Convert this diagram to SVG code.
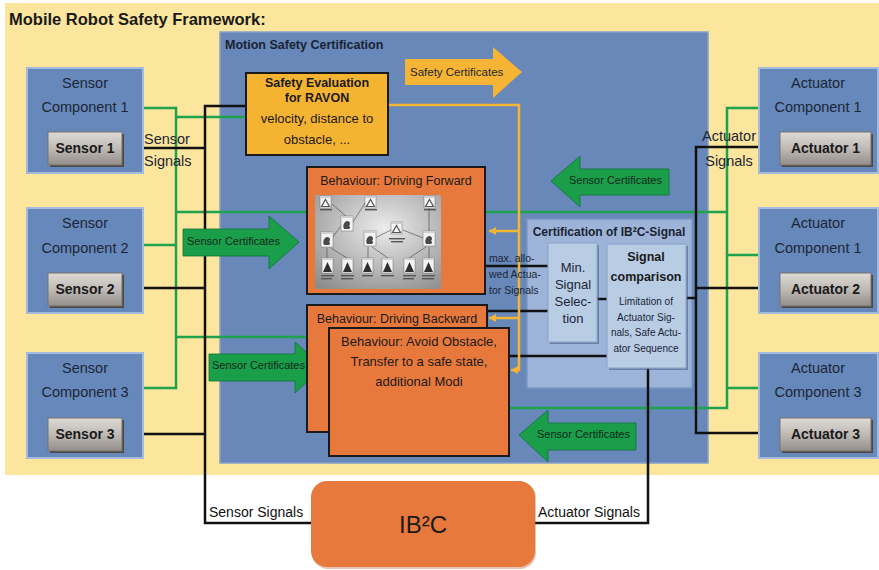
<svg xmlns="http://www.w3.org/2000/svg" width="879" height="570" viewBox="0 0 879 570">
  <style>
    .t { font-family: "Liberation Sans", Arial, sans-serif; fill: #1c2636; }
    .b { font-weight: bold; }
    .m { text-anchor: middle; }
    .comp { fill: #6788ba; stroke: #a2bbdf; stroke-width: 2; }
    .btn { fill: url(#btnGrad); stroke: #77726d; stroke-width: 1; }
    .btnsh { fill: #4b4845; }
    .orange { fill: #e8793d; stroke: #1a1a1a; stroke-width: 2; }
    .blk { stroke: #111; stroke-width: 2.5; fill: none; }
    .grn { stroke: #1ea24c; stroke-width: 2.5; fill: none; }
    .ylw { stroke: #f5b433; stroke-width: 2.5; fill: none; }
    .garrow { fill: #1a9e4a; stroke: #117139; stroke-width: 0.8; }
    .lite { fill: #b8cce4; stroke: #8ea8cf; stroke-width: 1.2; }
    .sh { fill: #3f547a; opacity: 0.55; }
    .ico { fill: #f3f3f3; stroke: #6f6f6f; stroke-width: 0.5; }
    .tiny { fill: #555; }
    .wire { stroke: #444; stroke-width: 0.6; fill: none; }
  </style>
  <defs>
    <linearGradient id="btnGrad" x1="0" y1="0" x2="0" y2="1">
      <stop offset="0" stop-color="#dedad6"/>
      <stop offset="0.5" stop-color="#bfbab5"/>
      <stop offset="1" stop-color="#938e89"/>
    </linearGradient>
    <radialGradient id="shotGrad" cx="0.55" cy="0.35" r="0.8">
      <stop offset="0" stop-color="#ececec"/>
      <stop offset="1" stop-color="#8c8c8c"/>
    </radialGradient>
    <marker id="yHead" markerUnits="userSpaceOnUse" markerWidth="8" markerHeight="8" refX="7" refY="4" orient="auto">
      <path d="M0,0 L7,4 L0,8 z" fill="#f5b433"/>
    </marker>
    <g id="icoTri">
      <rect class="ico" width="11" height="12"/>
      <rect width="11" height="2" fill="#cfcfcf"/>
      <polygon points="5.5,3.5 9.5,10.5 1.5,10.5" fill="none" stroke="#555" stroke-width="1.2"/>
    </g>
    <g id="icoAmp">
      <rect class="ico" width="12" height="15"/>
      <rect width="12" height="2" fill="#cfcfcf"/>
      <path d="M3,13 C1,9 4,5 6,5 C9,5 10,8 8,10 C10,11 9,13 7,13 Z" fill="#4a4a4a"/>
    </g>
    <g id="icoCone">
      <rect class="ico" width="11" height="15"/>
      <rect width="11" height="2" fill="#cfcfcf"/>
      <polygon points="5.5,4 10,14 1,14" fill="#2f2f2f"/>
    </g>
  </defs>

  <!-- framework background -->
  <rect x="5" y="3" width="874" height="472" fill="#fce59c"/>
  <text class="t b" x="9" y="25" font-size="16.5" style="fill:#1a1a1a">Mobile Robot Safety Framework:</text>

  <!-- motion safety certification panel -->
  <g id="motion-safety-certification">
    <rect x="220" y="32" width="488" height="431" fill="#6788b9" stroke="#86a1cb" stroke-width="1.5"/>
    <text class="t b" x="225" y="49" font-size="12.5" style="fill:#1a2333">Motion Safety Certification</text>
  </g>

  <!-- certification of the IB2C signal (container) -->
  <g id="certification-ib2c-signal">
    <rect x="527" y="219" width="165" height="169" fill="#9db4d8" stroke="#7b97c4" stroke-width="1.5"/>
    <text class="t b m" x="609" y="236" font-size="12" style="fill:#1a2333">Certification of IB²C-Signal</text>
  </g>

  <!-- connectors -->
  <g id="connectors">
    <!-- sensor certificate wiring -->
    <path class="grn" d="M143,108 H176 V388 H143"/>
    <path class="grn" d="M143,245 H176"/>
    <path class="grn" d="M176,117 H246"/>
    <path class="grn" d="M176,212 H307"/>
    <path class="grn" d="M176,337 H307"/>
    <path class="grn" d="M759,108 H727 V408 H509"/>
    <path class="grn" d="M759,255 H727"/>
    <path class="grn" d="M759,388 H727"/>
    <path class="grn" d="M485,212 H727"/>
    <!-- sensor signal bus -->
    <path class="blk" d="M122,148 H205"/>
    <path class="blk" d="M122,288 H205"/>
    <path class="blk" d="M122,434 H205"/>
    <path class="blk" d="M246,106 H205 V523 H311" stroke-width="2.2"/>
    <!-- behaviour outputs -->
    <path class="blk" d="M486,266 H548"/>
    <path class="blk" d="M488,311 H548"/>
    <path class="blk" d="M510,356 H607"/>
    <path class="blk" d="M597,299 H607"/>
    <!-- actuator signal bus -->
    <path class="blk" d="M780,147 H696 V433 H780"/>
    <path class="blk" d="M780,288 H696"/>
    <path class="blk" d="M686,298 H696"/>
    <path class="blk" d="M648,368 V523 H535" stroke-width="2.2"/>
    <!-- safety certificates distribution -->
    <path class="ylw" d="M388,105 H519 V370 H511" marker-end="url(#yHead)"/>
    <path class="ylw" d="M519,231 H489" marker-end="url(#yHead)"/>
    <path class="ylw" d="M519,318 H489" marker-end="url(#yHead)"/>
  </g>

  <!-- certificate arrows -->
  <g id="safety-certificates-arrow">
    <polygon points="405,59 493,59 493,47 522,72 493,98 493,85 405,85" fill="#f5b433"/>
    <text class="t" x="410" y="76" font-size="11.5">Safety Certificates</text>
  </g>
  <g id="sensor-certificates-1">
    <polygon class="garrow" points="183,229 269,229 269,216 299,242 269,269 269,256 183,256"/>
    <text class="t" x="187" y="245" font-size="11" style="fill:#10281a">Sensor Certificates</text>
  </g>
  <g id="sensor-certificates-2">
    <polygon class="garrow" points="209,354 295,354 295,342 323,367 295,393 295,381 209,381"/>
    <text class="t" x="212" y="369" font-size="11" style="fill:#10281a">Sensor Certificates</text>
  </g>
  <g id="sensor-certificates-3">
    <polygon class="garrow" points="669,169 580,169 580,156 551,181 580,207 580,195 669,195"/>
    <text class="t" x="569" y="184" font-size="11" style="fill:#10281a">Sensor Certificates</text>
  </g>
  <g id="sensor-certificates-4">
    <polygon class="garrow" points="636,423 548,423 548,410 519,435 548,462 548,450 636,450"/>
    <text class="t" x="537" y="438" font-size="11" style="fill:#10281a">Sensor Certificates</text>
  </g>

  <!-- sensor components -->
  <g id="sensor-component-1" transform="translate(27,68)">
    <rect class="comp" width="116" height="105"/>
    <text class="t m" x="58" y="20" font-size="14.5">Sensor</text>
    <text class="t m" x="58" y="44" font-size="14.5">Component 1</text>
    <rect class="btnsh" x="23" y="66" width="74" height="33"/>
    <rect class="btn" x="21" y="64" width="74" height="33"/>
    <text class="t b m" x="58" y="85" font-size="14" style="fill:#1a1a1a">Sensor 1</text>
  </g>
  <g id="sensor-component-2" transform="translate(27,208)">
    <rect class="comp" width="116" height="105"/>
    <text class="t m" x="58" y="20" font-size="14.5">Sensor</text>
    <text class="t m" x="58" y="45" font-size="14.5">Component 2</text>
    <rect class="btnsh" x="23" y="67" width="74" height="33"/>
    <rect class="btn" x="21" y="65" width="74" height="33"/>
    <text class="t b m" x="58" y="86" font-size="14" style="fill:#1a1a1a">Sensor 2</text>
  </g>
  <g id="sensor-component-3" transform="translate(27,353)">
    <rect class="comp" width="116" height="105"/>
    <text class="t m" x="58" y="20" font-size="14.5">Sensor</text>
    <text class="t m" x="58" y="44" font-size="14.5">Component 3</text>
    <rect class="btnsh" x="23" y="67" width="74" height="33"/>
    <rect class="btn" x="21" y="65" width="74" height="33"/>
    <text class="t b m" x="58" y="86" font-size="14" style="fill:#1a1a1a">Sensor 3</text>
  </g>

  <!-- actuator components -->
  <g id="actuator-component-1" transform="translate(759,68)">
    <rect class="comp" width="119" height="105"/>
    <text class="t m" x="59" y="20" font-size="14.5">Actuator</text>
    <text class="t m" x="59" y="44" font-size="14.5">Component 1</text>
    <rect class="btnsh" x="23" y="66" width="91" height="33"/>
    <rect class="btn" x="21" y="64" width="91" height="33"/>
    <text class="t b m" x="66.5" y="85" font-size="14" style="fill:#1a1a1a">Actuator 1</text>
  </g>
  <g id="actuator-component-2" transform="translate(759,208)">
    <rect class="comp" width="119" height="105"/>
    <text class="t m" x="59" y="20" font-size="14.5">Actuator</text>
    <text class="t m" x="59" y="45" font-size="14.5">Component 1</text>
    <rect class="btnsh" x="23" y="67" width="91" height="33"/>
    <rect class="btn" x="21" y="65" width="91" height="33"/>
    <text class="t b m" x="66.5" y="86" font-size="14" style="fill:#1a1a1a">Actuator 2</text>
  </g>
  <g id="actuator-component-3" transform="translate(759,353)">
    <rect class="comp" width="119" height="105"/>
    <text class="t m" x="59" y="20" font-size="14.5">Actuator</text>
    <text class="t m" x="59" y="44" font-size="14.5">Component 3</text>
    <rect class="btnsh" x="23" y="67" width="91" height="33"/>
    <rect class="btn" x="21" y="65" width="91" height="33"/>
    <text class="t b m" x="66.5" y="86" font-size="14" style="fill:#1a1a1a">Actuator 3</text>
  </g>

  <!-- signal labels -->
  <g id="signal-labels">
    <text class="t" x="144" y="144" font-size="14.5">Sensor</text>
    <text class="t" x="144" y="166" font-size="14.5">Signals</text>
    <text class="t m" x="729" y="141" font-size="14.5">Actuator</text>
    <text class="t m" x="729" y="166" font-size="14.5">Signals</text>
    <text class="t" x="209" y="517" font-size="14" style="fill:#111">Sensor Signals</text>
    <text class="t" x="538" y="517" font-size="14" style="fill:#111">Actuator Signals</text>
  </g>

  <!-- safety evaluation -->
  <g id="safety-evaluation">
    <rect x="246" y="73" width="142" height="82" fill="#f5b332" stroke="#1a1a1a" stroke-width="2"/>
    <text class="t b m" x="317" y="87" font-size="12.5" style="fill:#1a1a1a">Safety Evaluation</text>
    <text class="t b m" x="317" y="102" font-size="12.5" style="fill:#1a1a1a">for RAVON</text>
    <text class="t m" x="317" y="123" font-size="13" style="fill:#1a1a1a">velocity, distance to</text>
    <text class="t m" x="317" y="144" font-size="13" style="fill:#1a1a1a">obstacle, ...</text>
  </g>

  <!-- behaviour: driving forward with its behaviour network view -->
  <g id="behaviour-driving-forward">
    <rect class="orange" x="307" y="167" width="178" height="127"/>
    <text class="t m" x="396" y="185" font-size="12.5" style="fill:#1a1a1a">Behaviour: Driving Forward</text>
    <rect x="315" y="195" width="126" height="94" fill="url(#shotGrad)"/>
    <g>
      <path class="wire" d="M332,238 L341,226 M353,222 L365,203 M375,238 L391,230 M403,230 L423,238 M327,258 V248 M347,258 L331,248 M368,258 V247 M388,258 L372,247 M409,258 L426,247 M429,258 V247 M429,231 V208 M347,217 L332,204"/>
      <use href="#icoTri" x="320" y="196"/>
      <use href="#icoTri" x="365" y="196"/>
      <use href="#icoTri" x="424" y="196"/>
      <use href="#icoAmp" x="341" y="216"/>
      <use href="#icoAmp" x="321" y="232"/>
      <use href="#icoAmp" x="364" y="231"/>
      <use href="#icoAmp" x="423" y="231"/>
      <use href="#icoTri" x="391" y="222"/>
      <use href="#icoCone" x="322" y="258"/>
      <use href="#icoCone" x="342" y="258"/>
      <use href="#icoCone" x="362" y="258"/>
      <use href="#icoCone" x="382" y="258"/>
      <use href="#icoCone" x="404" y="258"/>
      <use href="#icoCone" x="423" y="258"/>
      <rect class="tiny" x="320" y="209" width="12" height="1.4"/>
      <rect class="tiny" x="365" y="209" width="12" height="1.4"/>
      <rect class="tiny" x="424" y="209" width="12" height="1.4"/>
      <rect class="tiny" x="389" y="238" width="16" height="1.4"/>
      <rect class="tiny" x="391" y="241" width="12" height="1.4"/>
      <rect class="tiny" x="321" y="275" width="13" height="1.4"/>
      <rect class="tiny" x="341" y="275" width="13" height="1.4"/>
      <rect class="tiny" x="362" y="275" width="11" height="1.4"/>
      <rect class="tiny" x="381" y="275" width="13" height="1.4"/>
      <rect class="tiny" x="403" y="275" width="13" height="1.4"/>
      <rect class="tiny" x="422" y="275" width="13" height="1.4"/>
      <rect class="tiny" x="321" y="278" width="11" height="1.4"/>
      <rect class="tiny" x="341" y="278" width="12" height="1.4"/>
      <rect class="tiny" x="403" y="278" width="11" height="1.4"/>
      <rect class="tiny" x="422" y="278" width="12" height="1.4"/>
    </g>
  </g>

  <!-- behaviour: driving backward -->
  <g id="behaviour-driving-backward">
    <rect class="orange" x="307" y="305" width="180" height="127"/>
    <text class="t m" x="397" y="323" font-size="12.5" style="fill:#1a1a1a">Behaviour: Driving Backward</text>
  </g>

  <!-- behaviour: avoid obstacle -->
  <g id="behaviour-avoid-obstacle">
    <rect class="orange" x="329" y="328" width="180" height="128"/>
    <text class="t m" x="419" y="346" font-size="13" style="fill:#1a1a1a">Behaviour: Avoid Obstacle,</text>
    <text class="t m" x="419" y="366" font-size="13" style="fill:#1a1a1a">Transfer to a safe state,</text>
    <text class="t m" x="419" y="386" font-size="13" style="fill:#1a1a1a">additional Modi</text>
  </g>

  <g id="min-signal-selection">
    <rect class="sh" x="550" y="245" width="49" height="99"/>
    <rect class="lite" x="548" y="243" width="49" height="99"/>
    <text class="t m" x="573" y="272" font-size="13">Min.</text>
    <text class="t m" x="573" y="289" font-size="13">Signal</text>
    <text class="t m" x="573" y="306" font-size="13">Selec-</text>
    <text class="t m" x="573" y="323" font-size="13">tion</text>
  </g>
  <g id="signal-comparison">
    <rect class="sh" x="609" y="246" width="79" height="124"/>
    <rect class="lite" x="607" y="244" width="79" height="124"/>
    <text class="t b m" x="646" y="261" font-size="12.5" style="fill:#1a1a1a">Signal</text>
    <text class="t b m" x="646" y="281" font-size="12.5" style="fill:#1a1a1a">comparison</text>
    <text class="t m" x="646" y="305" font-size="10">Limitation of</text>
    <text class="t m" x="646" y="321" font-size="10">Actuator Sig-</text>
    <text class="t m" x="646" y="336" font-size="10">nals, Safe Actu-</text>
    <text class="t m" x="646" y="352" font-size="10">ator Sequence</text>
  </g>

  <!-- max. allowed actuator signals note, on top of the feed lines -->
  <g id="max-allowed-label">
    <text class="t" x="489" y="262" font-size="10.5">max. allo-</text>
    <text class="t" x="489" y="278" font-size="10.5">wed Actua-</text>
    <text class="t" x="489" y="294" font-size="10.5">tor Signals</text>
  </g>

  <!-- IB2C -->
  <g id="ib2c">
    <rect x="312" y="482" width="224" height="87" rx="16" fill="#b85a2c" opacity="0.35"/>
    <rect x="311" y="481" width="224" height="86" rx="16" fill="#e8793d"/>
    <text class="t m" x="423" y="533" font-size="24" style="fill:#1a1a1a">IB²C</text>
  </g>
</svg>
